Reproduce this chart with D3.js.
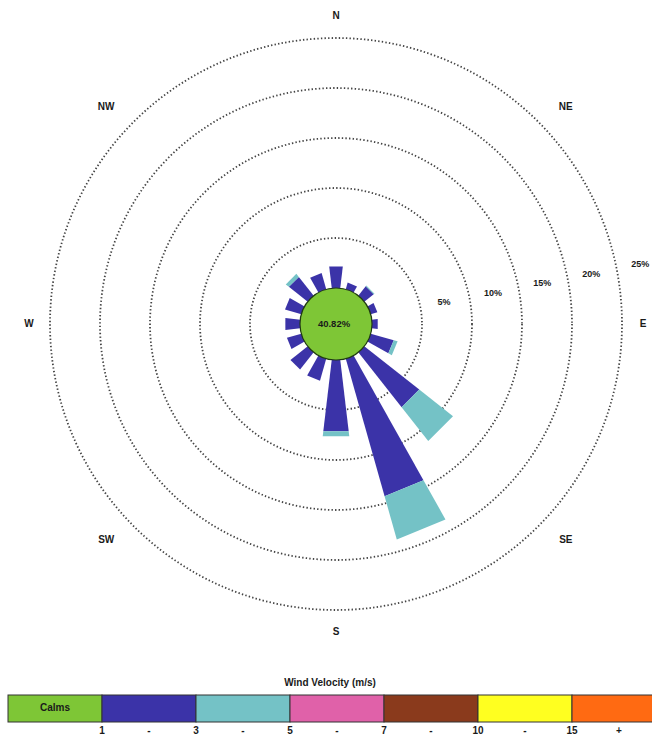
<!DOCTYPE html>
<html>
<head>
<meta charset="utf-8">
<script src="https://cdn.jsdelivr.net/npm/d3@7"></script>
<style>
  html, body { margin: 0; padding: 0; background: #fff; }
  svg { display: block; }
  text { font-family: "Liberation Sans Narrow", "Arial Narrow", "Liberation Sans", Arial, sans-serif; font-weight: bold; fill: #1a1a1a; }
</style>
</head>
<body>
<script>
// ---- data ----
const directions = ["N","NNE","NE","ENE","E","ESE","SE","SSE","S","SSW","SW","WSW","W","WNW","NW","NNW"];
const speed1to3 = [2.2, 0.7, 1.2, 0.7, 0.6, 2.4, 7.0, 14.3, 7.2, 2.3, 2.2, 1.5, 1.5, 1.7, 2.4, 1.7];
const speed3to5 = [0.0, 0.0, 0.1, 0.0, 0.0, 0.4, 4.3, 4.5, 0.5, 0.0, 0.0, 0.0, 0.0, 0.0, 0.4, 0.0];
const calmPercent = "40.82%";
const ringValues = [5, 10, 15, 20, 25];
const compassLabels = ["N","NE","E","SE","S","SW","W","NW"];
const legendClasses = ["Calms","1-3","3-5","5-7","7-10","10-15","15+"];
const legendColors = ["#7ec636","#3b33a8","#74c2c6","#e061a9","#8a3a1c","#ffff20","#ff6a12"];
const legendTicks = ["1","-","3","-","5","-","7","-","10","-","15","+"];
const legendTitle = "Wind Velocity (m/s)";

// ---- layout ----
const W = 652, H = 739;
const cx = 336, cy = 324;
const svg = d3.select("body").append("svg").attr("width", W).attr("height", H);

const r = d3.scaleLinear().domain([0, 25]).range([36, 286]);
const ang = d3.scaleBand().domain(directions).range([0, 2 * Math.PI]).align(0);
const half = (13.5 / 360) * Math.PI; // half width of each bar

const g = svg.append("g").attr("transform", `translate(${cx},${cy})`);

// rings
g.selectAll("circle.ring").data(ringValues).enter().append("circle")
  .attr("class", "ring")
  .attr("r", d => r(d))
  .attr("fill", "none")
  .attr("stroke", "#444")
  .attr("stroke-width", 1.8)
  .attr("stroke-dasharray", "1.4,2.2");

// ring labels
const labAng = 79 * Math.PI / 180;
g.selectAll("text.ringlab").data(ringValues).enter().append("text")
  .attr("class", "ringlab")
  .attr("x", d => Math.sin(labAng) * (r(d) + 24))
  .attr("y", d => -Math.cos(labAng) * (r(d) + 24))
  .attr("text-anchor", "middle")
  .attr("dominant-baseline", "middle")
  .attr("font-size", 9)
  .text(d => d + "%");

// compass labels
g.selectAll("text.compass").data(compassLabels).enter().append("text")
  .attr("class", "compass")
  .attr("x", (d, i) => Math.sin(i * Math.PI / 4) * (i % 2 ? 325 : 307))
  .attr("y", (d, i) => -Math.cos(i * Math.PI / 4) * (i % 2 ? 306 : 308))
  .attr("text-anchor", "middle")
  .attr("dominant-baseline", "middle")
  .attr("font-size", 10)
  .text(d => d);

// bars (trapezoids)
const radial = d3.lineRadial().curve(d3.curveLinearClosed);
function bar(a, v0, v1) {
  return radial([[a - half, r(v0)], [a + half, r(v0)], [a + half, r(v1)], [a - half, r(v1)]]);
}
const barData = [];
directions.forEach((d, i) => {
  barData.push({ dir: d, v0: 0, v1: speed1to3[i], color: legendColors[1] });
  if (speed3to5[i] > 0)
    barData.push({ dir: d, v0: speed1to3[i], v1: speed1to3[i] + speed3to5[i], color: legendColors[2] });
});
g.append("g").selectAll("path").data(barData).enter().append("path")
  .attr("d", b => bar(ang(b.dir), b.v0, b.v1))
  .attr("fill", b => b.color);

// calm circle
g.append("circle").attr("r", r(0))
  .attr("fill", legendColors[0]).attr("stroke", "#1f3a10").attr("stroke-width", 1.2);
g.append("text").attr("x", -2).attr("y", 0)
  .attr("text-anchor", "middle").attr("dominant-baseline", "middle")
  .attr("font-size", 9.5).text(calmPercent);

// legend
const lx0 = 8, segW = 94, ly = 695, lh = 27;
const lx = d3.scaleBand().domain(legendClasses).range([lx0, lx0 + segW * legendClasses.length]);
svg.append("text").attr("x", 330).attr("y", 686).attr("text-anchor", "middle")
  .attr("font-size", 10).text(legendTitle);
svg.append("g").selectAll("rect").data(legendClasses).enter().append("rect")
  .attr("x", d => lx(d)).attr("y", ly).attr("width", lx.bandwidth()).attr("height", lh)
  .attr("fill", (d, i) => legendColors[i]).attr("stroke", "#333").attr("stroke-width", 1);
svg.append("text").attr("x", lx("Calms") + lx.bandwidth() / 2).attr("y", ly + lh / 2)
  .attr("text-anchor", "middle").attr("dominant-baseline", "middle")
  .attr("font-size", 10).attr("fill", "#1d3a0c").text("Calms");
svg.append("g").selectAll("text").data(legendTicks).enter().append("text")
  .attr("x", (d, i) => lx0 + (segW / 2) * (i + 2))
  .attr("y", 734)
  .attr("text-anchor", "middle")
  .attr("font-size", 10)
  .text(d => d);
</script>
</body>
</html>
